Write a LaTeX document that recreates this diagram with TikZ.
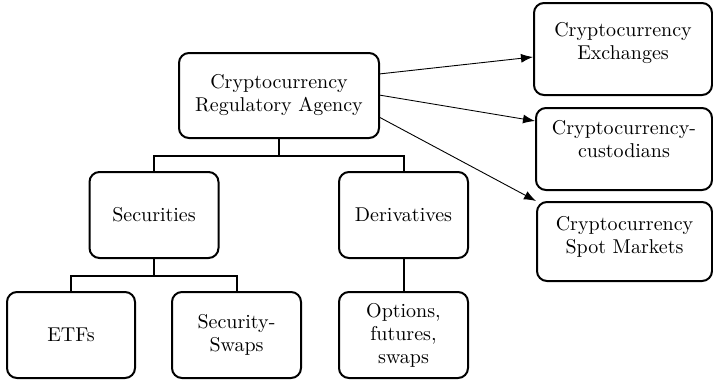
\documentclass[tikz,border=0pt]{standalone}
\usetikzlibrary{arrows.meta}
\begin{document}
\begin{tikzpicture}[x=0.5pt,y=-0.5pt,
  box/.style={draw,line width=1pt,rounded corners=5pt,align=center,
    inner sep=0pt,font=\fontsize{10}{11.5}\selectfont},
  link/.style={line width=1pt},
  feed/.style={line width=0.45pt,-{Latex[length=6pt,width=4.5pt]}}]
\useasboundingbox (0,0) rectangle (713,380);
% top
\node [box,minimum width=100pt,minimum height=42.5pt] (agency) at (279,95.5) {Cryptocurrency\\Regulatory Agency};
% right column
\node [box,minimum width=89pt,minimum height=46pt,text depth=8pt] (exch) at (623,49) {Cryptocurrency\\Exchanges};
\node [box,minimum width=88pt,minimum height=41pt,text depth=10pt] (cust) at (624,149) {Cryptocurrency-\\custodians};
\node [box,minimum width=87.5pt,minimum height=39.5pt,text depth=7pt] (spot) at (624.5,241.5) {Cryptocurrency\\Spot Markets};
% second level
\node [box,minimum width=64.5pt,minimum height=43pt] (sec) at (154,215) {Securities};
\node [box,minimum width=64.5pt,minimum height=43pt] (deriv) at (403.5,215) {Derivatives};
% third level
\node [box,minimum width=64pt,minimum height=43pt] (etf) at (71,335) {ETFs};
\node [box,minimum width=64.5pt,minimum height=43pt] (swaps) at (236.5,335) {Security-\\Swaps};
\node [box,minimum width=64.5pt,minimum height=43pt] (opts) at (403.5,335) {Options,\\futures,\\swaps};
% tree lines
\coordinate (j1) at (279,156);
\coordinate (j2) at (154,276);
\draw [link] (agency.south) -- (j1) -| (sec.north);
\draw [link] (j1) -| (deriv.north);
\draw [link] (sec.south) -- (j2) -| (etf.north);
\draw [link] (j2) -| (swaps.north);
\draw [link] (deriv.south) -- (opts.north);
% arrows
\draw [feed] (379,74) -- (exch.west |- 0,57);
\draw [feed] (379,95) -- (cust.west |- 0,121);
\draw [feed] (379,117) -- (spot.north west);
\end{tikzpicture}
\end{document}
